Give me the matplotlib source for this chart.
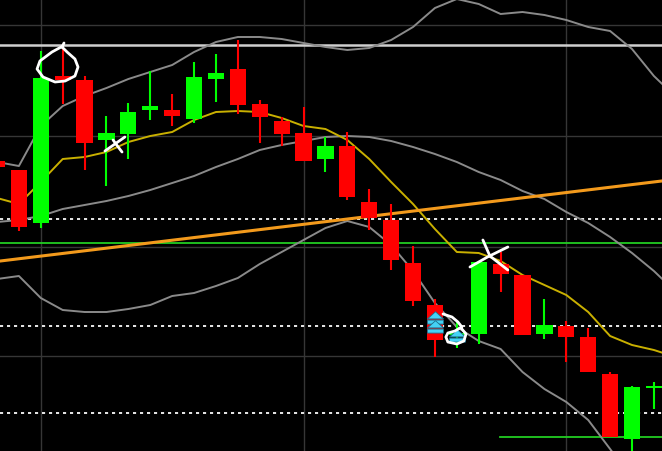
import matplotlib
matplotlib.use("Agg")
import matplotlib.pyplot as plt
from matplotlib.path import Path
import numpy as np

# ---- data (price axis is drawn inverted: smaller value = higher on chart) ----
opens  = [162, 171, 224, 77, 81, 141, 135, 111, 111, 120, 80, 70, 105, 122, 134, 160, 147, 203, 221, 264,
          306, 336, 335, 265, 276, 335, 327, 338, 375, 440, 389]
highs  = [160, 171, 52, 50, 77, 117, 104, 72, 95, 63, 55, 41, 101, 118, 108, 138, 133, 190, 205, 247,
          300, 323, 263, 253, 276, 300, 322, 329, 373, 387, 383]
lows   = [170, 232, 229, 105, 171, 187, 160, 121, 127, 124, 103, 115, 144, 147, 162, 173, 201, 231, 271, 307,
          358, 349, 345, 293, 336, 340, 363, 373, 438, 452, 410]
closes = [168, 228, 79, 81, 144, 134, 113, 107, 117, 78, 74, 106, 118, 135, 162, 147, 198, 219, 261, 302,
          341, 334, 263, 275, 336, 326, 338, 373, 438, 388, 387]

upper_band = [163, 167, 127, 107, 97, 89, 80, 73, 66, 53, 43, 38, 38, 40, 44, 48, 51, 49, 41, 28,
              9, 0, 5, 15, 13, 16, 21, 28, 32, 50, 77, 98]
mid_band   = [223, 221, 217, 210, 206, 202, 197, 191, 184, 177, 168, 160, 151, 146, 142, 138, 137, 138, 142, 148,
              155, 163, 173, 181, 192, 200, 213, 224, 238, 254, 272, 293]
lower_band = [280, 277, 299, 311, 313, 313, 310, 306, 297, 294, 287, 279, 265, 253, 241, 229, 222, 228, 246, 272,
              304, 328, 342, 350, 373, 390, 403, 421, 450, 480, 510, 540]
ma_line    = [199, 205, 183, 160, 158, 153, 143, 137, 133, 121, 113, 112, 113, 119, 127, 130, 141, 160, 183, 205,
              230, 253, 254, 262, 276, 286, 296, 313, 337, 346, 351, 358]

trend_x = [0, 31]
trend_y = [262.4, 180.3]

white_level = 46
dotted_levels = [220, 327, 414]
green_level = 244
green_short_level = 438
green_short_x = [22.97, 31]

signal_x = [20, 20, 21]
signal_y = [319, 328, 337]

circle1_x = [3.01, 2.51, 1.96, 1.83, 2.10, 2.65, 3.11, 3.56, 3.70, 3.56, 3.20, 2.97, 3.06]
circle1_y = [47, 53, 62, 70, 78, 83, 82, 77, 68, 60, 53, 48, 44]
cross1a_x, cross1a_y = [4.93, 5.84], [152, 138]
cross1b_x, cross1b_y = [5.30, 5.50, 5.71], [141, 147, 153]
cross2a_x, cross2a_y = [21.60, 22.4, 23.33], [268, 258, 248]
cross2b_x, cross2b_y = [22.19, 22.51, 23.33], [241, 257, 271]
circle2_x = [20.37, 20.78, 21.05, 21.23, 20.91, 20.59, 20.50, 20.59, 21.00, 21.32, 21.42, 21.23]
circle2_y = [315, 318, 323, 328, 332, 334, 338, 343, 345, 342, 335, 330]

grid_x = [2, 14, 26]
grid_y = [26, 137, 248, 357]

# ---- figure ----
fig = plt.figure(figsize=(6.62, 4.52), dpi=100, facecolor="black")
ax = fig.add_axes([0, 0, 1, 1])
ax.set_facecolor("black")
ax.set_xlim(0.137, 30.37)
ax.set_ylim(452, 0)
ax.axis("off")

for gx in grid_x:
    ax.axvline(gx, color="#363636", lw=1.0, zorder=1)
for gy in grid_y:
    ax.axhline(gy, color="#363636", lw=1.0, zorder=1)

ax.axhline(white_level, color="#cfcfcf", lw=1.8, zorder=2)
for lv in dotted_levels:
    ax.axhline(lv, color="#e8e8e8", lw=1.4, ls=(0, (1.6, 2.0)), zorder=2)
ax.axhline(green_level, color="#22cc22", lw=1.3, zorder=2)
ax.plot(green_short_x, [green_short_level] * 2, color="#22cc22", lw=1.3, zorder=2)

xs = np.arange(len(upper_band))
ax.plot(xs, upper_band, color="#8a8a8a", lw=1.4, zorder=3)
ax.plot(xs, mid_band, color="#8a8a8a", lw=1.4, zorder=3)
ax.plot(xs, lower_band, color="#8a8a8a", lw=1.4, zorder=3)
ax.plot(xs, ma_line, color="#c9b000", lw=1.4, zorder=3)
ax.plot(trend_x, trend_y, color="#f39a1c", lw=2.2, zorder=3)

# candles
cx = np.arange(len(opens))
for i in cx:
    o, h, l, c = opens[i], highs[i], lows[i], closes[i]
    up = c < o
    col = "#00ff00" if up else "#ff0000"
    ax.vlines(i, h, l, color=col, lw=1.5, zorder=4)
    top, bot = min(o, c), max(o, c)
    height = max(bot - top, 2)
    ax.bar(i, height, bottom=top, width=0.74, color=col, edgecolor=col, lw=0, zorder=5)

# signal markers (arrow: triangle over a small bar)
verts = [(-1, -0.05), (1, -0.05), (0, 0.85), (-1, -0.05),
         (-1, -0.7), (1, -0.7), (1, -0.2), (-1, -0.2), (-1, -0.7)]
codes = [Path.MOVETO, Path.LINETO, Path.LINETO, Path.CLOSEPOLY,
         Path.MOVETO, Path.LINETO, Path.LINETO, Path.LINETO, Path.CLOSEPOLY]
arrow = Path(verts, codes)
ax.plot(signal_x, signal_y, ls="none", marker=arrow, markersize=11.5,
        markerfacecolor="#45d2f5", markeredgecolor="#1b6f8c", markeredgewidth=0.6, zorder=6)

# hand-drawn annotations
for px, py in [(circle1_x, circle1_y), (cross1a_x, cross1a_y), (cross1b_x, cross1b_y),
               (cross2a_x, cross2a_y), (cross2b_x, cross2b_y), (circle2_x, circle2_y)]:
    ax.plot(px, py, color="white", lw=2.0, solid_capstyle="round", solid_joinstyle="round", zorder=7)

fig.savefig("out.png", dpi=100, facecolor="black")
